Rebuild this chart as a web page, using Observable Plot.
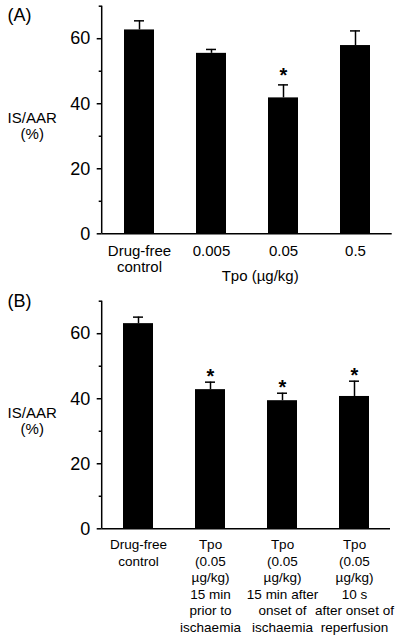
<!DOCTYPE html>
<html><head><meta charset="utf-8">
<script src="https://cdn.jsdelivr.net/npm/d3@7"></script>
<script src="https://cdn.jsdelivr.net/npm/@observablehq/plot@0.6"></script>
<style>
html,body{margin:0;padding:0;background:#fff}
body{width:400px;height:639px;overflow:hidden;font-family:"Liberation Sans",Arial,sans-serif}
#chart svg{display:block}
</style></head><body><div id="chart"></div>
<script>
// ---- data ----
const groupsA = ["Drug-free\ncontrol", "0.005", "0.05", "0.5"];
const meanA = [62.7, 55.5, 41.8, 57.9];
const semA = [2.8, 1.2, 4.0, 4.5];
const starA = [false, false, true, false];

const groupsB = [
  "Drug-free\ncontrol",
  "Tpo\n(0.05\nµg/kg)\n15 min\nprior to\nischaemia",
  "Tpo\n(0.05\nµg/kg)\n15 min after\nonset of\nischaemia",
  "Tpo\n(0.05\nµg/kg)\n10 s\nafter onset of\nreperfusion"
];
const meanB = [63.1, 42.8, 39.4, 40.7];
const semB = [2.0, 2.3, 2.3, 4.7];
const starB = [false, true, true, true];

const yTicks = [0, 20, 40, 60];
const yMinorTicks = [10, 30, 50, 70];
const yDomain = [0, 70];
const panelLabels = ["(A)", "(B)"];
const yLabel = "IS/AAR\n(%)";
const xTitleA = "Tpo (µg/kg)";

const FONT = "'Liberation Sans', Arial, Helvetica, sans-serif";

function rowsOf(groups, mean, sem, star) {
  return groups.map((g, i) => ({g, mean: mean[i], top: mean[i] + sem[i], star: star[i]}));
}

// vertical axis line along the left edge of the frame
function leftAxisLine(index, scales, values, dim) {
  const y = scales.y;
  const line = document.createElementNS("http://www.w3.org/2000/svg", "line");
  line.setAttribute("x1", dim.marginLeft);
  line.setAttribute("x2", dim.marginLeft);
  line.setAttribute("y1", y(yDomain[1]));
  line.setAttribute("y2", y(yDomain[0]));
  line.setAttribute("stroke", "black");
  line.setAttribute("stroke-width", 1.5);
  return line;
}

function panel(cfg) {
  const rows = rowsOf(cfg.groups, cfg.mean, cfg.sem, cfg.star);
  const marks = [
    Plot.barY(rows, {x: "g", y: "mean", fill: "black"}),
    Plot.ruleX(rows, {x: "g", y1: "mean", y2: "top", stroke: "black", strokeWidth: 1.5}),
    Plot.tickY(rows, {x: "g", y: "top", insetLeft: 10, insetRight: 10, stroke: "black", strokeWidth: 1.5}),
    Plot.text(rows.filter(d => d.star), {x: "g", y: "top", text: () => "*", dy: cfg.starDy, fontSize: 20, fontWeight: "bold", fill: "black"}),
    Plot.ruleY([0], {stroke: "black", strokeWidth: 1.5}),
    Plot.axisY({ticks: yTicks, tickSize: 5, tickPadding: 7, fontSize: 18, strokeWidth: 1.5, label: null}),
    Plot.axisY({ticks: yMinorTicks, tickSize: 3, tickFormat: () => "", strokeWidth: 1.5, label: null}),
    leftAxisLine,
    Plot.text(rows, {x: "g", text: "g", frameAnchor: "bottom", lineAnchor: "top", dy: cfg.catDy, fontSize: cfg.catSize, lineHeight: cfg.catLH, fill: "black"}),
    Plot.text([yLabel], {frameAnchor: "left", textAnchor: "middle", dx: -70, dy: 5.5, fontSize: 15, lineHeight: 1.1, fill: "black"}),
    Plot.text([cfg.label], {frameAnchor: "top-left", textAnchor: "start", lineAnchor: "bottom", dx: -94.7, dy: cfg.labelDy, fontSize: 18, fill: "black"})
  ];
  if (cfg.xTitle) {
    marks.push(Plot.text([cfg.xTitle], {frameAnchor: "bottom", lineAnchor: "bottom", dx: 13, dy: 46.7, fontSize: 15, fill: "black"}));
  }
  return Plot.plot({
    width: 400,
    height: cfg.height,
    marginLeft: 101.7,
    marginRight: cfg.marginRight,
    marginTop: cfg.marginTop,
    marginBottom: cfg.marginBottom,
    style: {fontFamily: FONT, color: "black", background: "white", overflow: "visible"},
    x: {domain: cfg.groups, paddingInner: 0.59, paddingOuter: 0.29, axis: null},
    y: {domain: yDomain, axis: null},
    marks
  });
}

const chart = document.getElementById("chart");
chart.append(panel({
  groups: groupsA, mean: meanA, sem: semA, star: starA,
  height: 287, marginTop: 5.7, marginBottom: 53.7, marginRight: 8.3,
  starDy: -8.8, catDy: 11, catSize: 15, catLH: 1.05,
  label: panelLabels[0], labelDy: 14.3, xTitle: xTitleA
}));
chart.append(panel({
  groups: groupsB, mean: meanB, sem: semB, star: starB,
  height: 352, marginTop: 13.7, marginBottom: 110.7, marginRight: 10,
  starDy: -5.3, catDy: 8.4, catSize: 13.5, catLH: 1.23,
  label: panelLabels[1], labelDy: 5.3, xTitle: null
}));
</script>
</body></html>
